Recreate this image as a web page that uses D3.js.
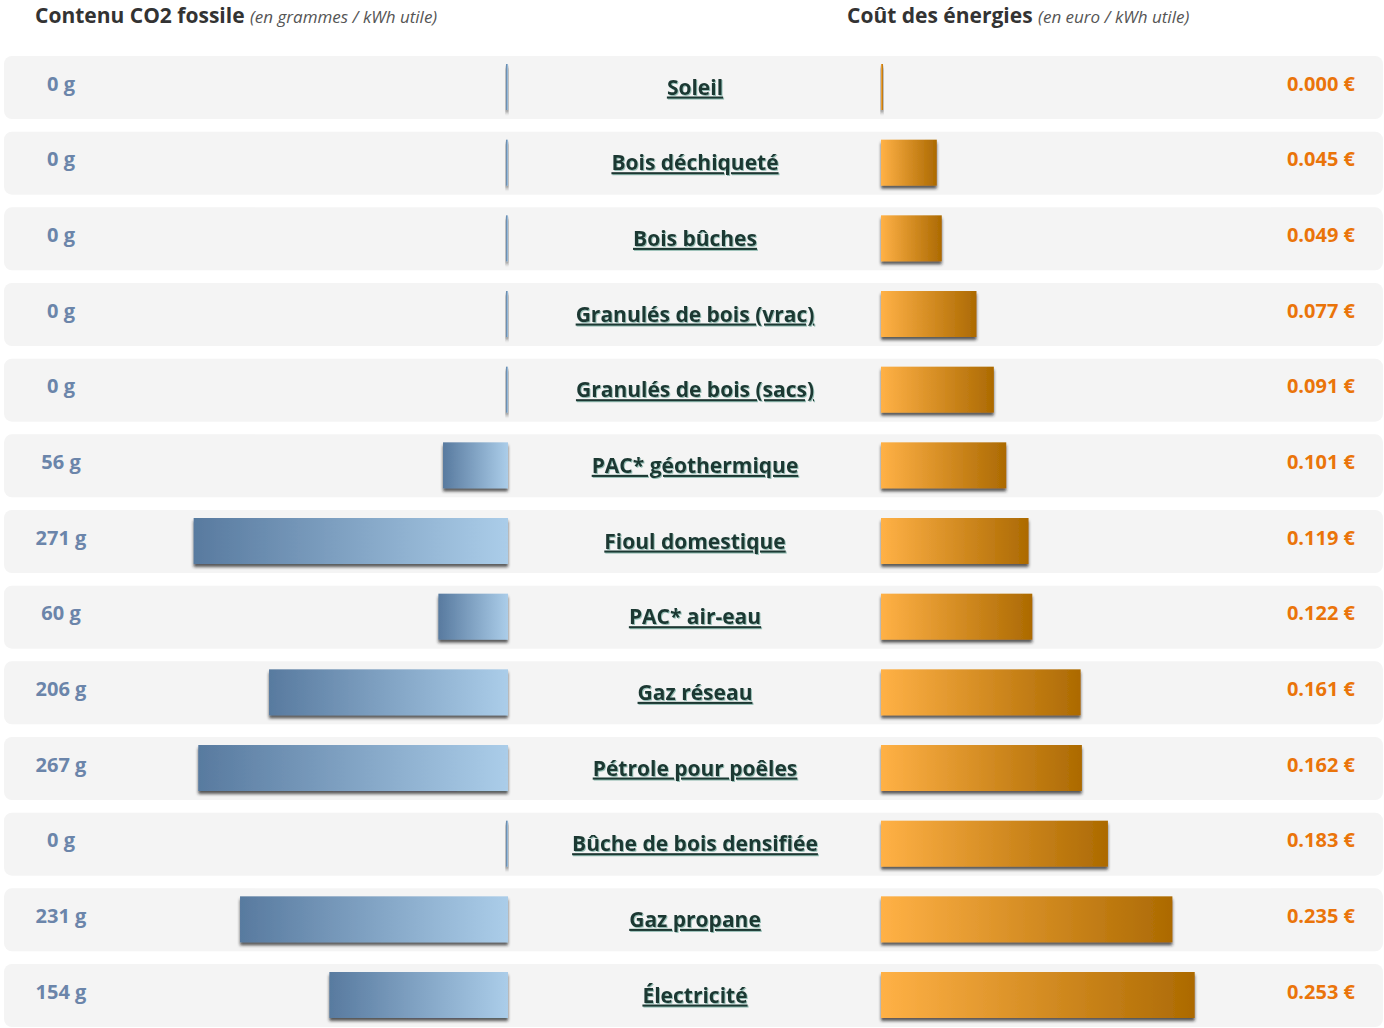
<!DOCTYPE html>
<html>
<head>
<meta charset="utf-8">
<script src="https://cdn.jsdelivr.net/npm/d3@7"></script>
<style>
  body { margin: 0; background: #fff; }
  svg { display: block; font-family: "Open Sans", "DejaVu Sans", sans-serif; }
  .name { font-weight: 700; font-size: 21px; fill: #1d3833; text-decoration: underline; }
</style>
</head>
<body>
<svg id="chart" width="1384" height="1028"></svg>
<script>
const energies = ['Soleil', 'Bois déchiqueté', 'Bois bûches', 'Granulés de bois (vrac)',
  'Granulés de bois (sacs)', 'PAC* géothermique', 'Fioul domestique', 'PAC* air-eau',
  'Gaz réseau', 'Pétrole pour poêles', 'Bûche de bois densifiée', 'Gaz propane', 'Électricité'];
const co2 = [0, 0, 0, 0, 0, 56, 271, 60, 206, 267, 0, 231, 154]; // g / kWh utile
const cost = [0.000, 0.045, 0.049, 0.077, 0.091, 0.101, 0.119, 0.122, 0.161, 0.162, 0.183, 0.235, 0.253]; // euro / kWh utile

const svg = d3.select('#chart'),
  width = +svg.attr('width');

const defs = svg.append('defs');

const blue = defs.append('linearGradient').attr('id', 'blueGrad');
blue.append('stop').attr('offset', '0%').attr('stop-color', '#587a9f');
blue.append('stop').attr('offset', '100%').attr('stop-color', '#abcde9');

const orange = defs.append('linearGradient').attr('id', 'orangeGrad');
orange.append('stop').attr('offset', '0%').attr('stop-color', '#ffb146');
orange.append('stop').attr('offset', '100%').attr('stop-color', '#ac6a02');

defs.append('filter').attr('id', 'shadow')
  .attr('x', '-20%').attr('y', '-20%').attr('width', '140%').attr('height', '160%')
  .append('feDropShadow')
  .attr('dx', 0).attr('dy', 3).attr('stdDeviation', 1.5)
  .attr('flood-color', '#222').attr('flood-opacity', 0.75);

defs.append('filter').attr('id', 'textShadow')
  .append('feDropShadow')
  .attr('dx', 1).attr('dy', 1).attr('stdDeviation', 0.4)
  .attr('flood-color', '#3a8a7a').attr('flood-opacity', 0.5);

// rows
const y = d3.scaleBand()
  .domain(energies)
  .range([56, 56 + 12 * 75.67 + 63])
  .paddingInner(0.167)
  .paddingOuter(0);

const xCo2 = d3.scaleLinear().domain([0, 300]).range([508, 160]);
const xCost = d3.scaleLinear().domain([0, 0.3]).range([881, 881 + 372]);

// titles
const t1 = svg.append('text').attr('x', 35).attr('y', 23);
t1.append('tspan').attr('font-weight', 700).attr('font-size', 21).attr('fill', '#333').text('Contenu CO2 fossile ');
t1.append('tspan').attr('font-style', 'italic').attr('font-size', 17).attr('fill', '#555').text('(en grammes / kWh utile)');

const t2 = svg.append('text').attr('x', 847).attr('y', 23);
t2.append('tspan').attr('font-weight', 700).attr('font-size', 21).attr('fill', '#333').text('Coût des énergies ');
t2.append('tspan').attr('font-style', 'italic').attr('font-size', 17).attr('fill', '#555').text('(en euro / kWh utile)');

const rows = svg.selectAll('g.row')
  .data(energies.map((name, i) => ({ name, co2: co2[i], cost: cost[i] })))
  .enter().append('g')
  .attr('class', 'row')
  .attr('transform', d => `translate(0,${y(d.name)})`);

const bh = y.bandwidth();

rows.append('rect')
  .attr('x', 4)
  .attr('width', width - 5)
  .attr('height', bh)
  .attr('rx', 8)
  .attr('fill', '#f4f4f4');

// CO2 bars (growing leftwards)
rows.append('rect')
  .attr('x', d => Math.min(xCo2(d.co2), xCo2(0) - 2))
  .attr('y', 8)
  .attr('width', d => Math.max(xCo2(0) - xCo2(d.co2), 2))
  .attr('height', 46)
  .attr('fill', 'url(#blueGrad)')
  .attr('filter', 'url(#shadow)');

// cost bars
rows.append('rect')
  .attr('x', xCost(0))
  .attr('y', 8)
  .attr('width', d => Math.max(xCost(d.cost) - xCost(0), 2))
  .attr('height', 46)
  .attr('fill', 'url(#orangeGrad)')
  .attr('filter', 'url(#shadow)');

rows.append('text')
  .attr('class', 'name')
  .attr('x', 695)
  .attr('y', bh / 2 + 7)
  .attr('text-anchor', 'middle')
  .attr('filter', 'url(#textShadow)')
  .text(d => d.name);

rows.append('text')
  .attr('x', 61)
  .attr('y', bh / 2 + 3)
  .attr('text-anchor', 'middle')
  .attr('font-weight', 700)
  .attr('font-size', 20)
  .attr('fill', '#6b85aa')
  .text(d => d.co2 + ' g');

rows.append('text')
  .attr('x', 1355)
  .attr('y', bh / 2 + 3)
  .attr('text-anchor', 'end')
  .attr('font-weight', 700)
  .attr('font-size', 20)
  .attr('fill', '#ea740a')
  .text(d => d3.format('.3f')(d.cost) + ' €');
</script>
</body>
</html>
